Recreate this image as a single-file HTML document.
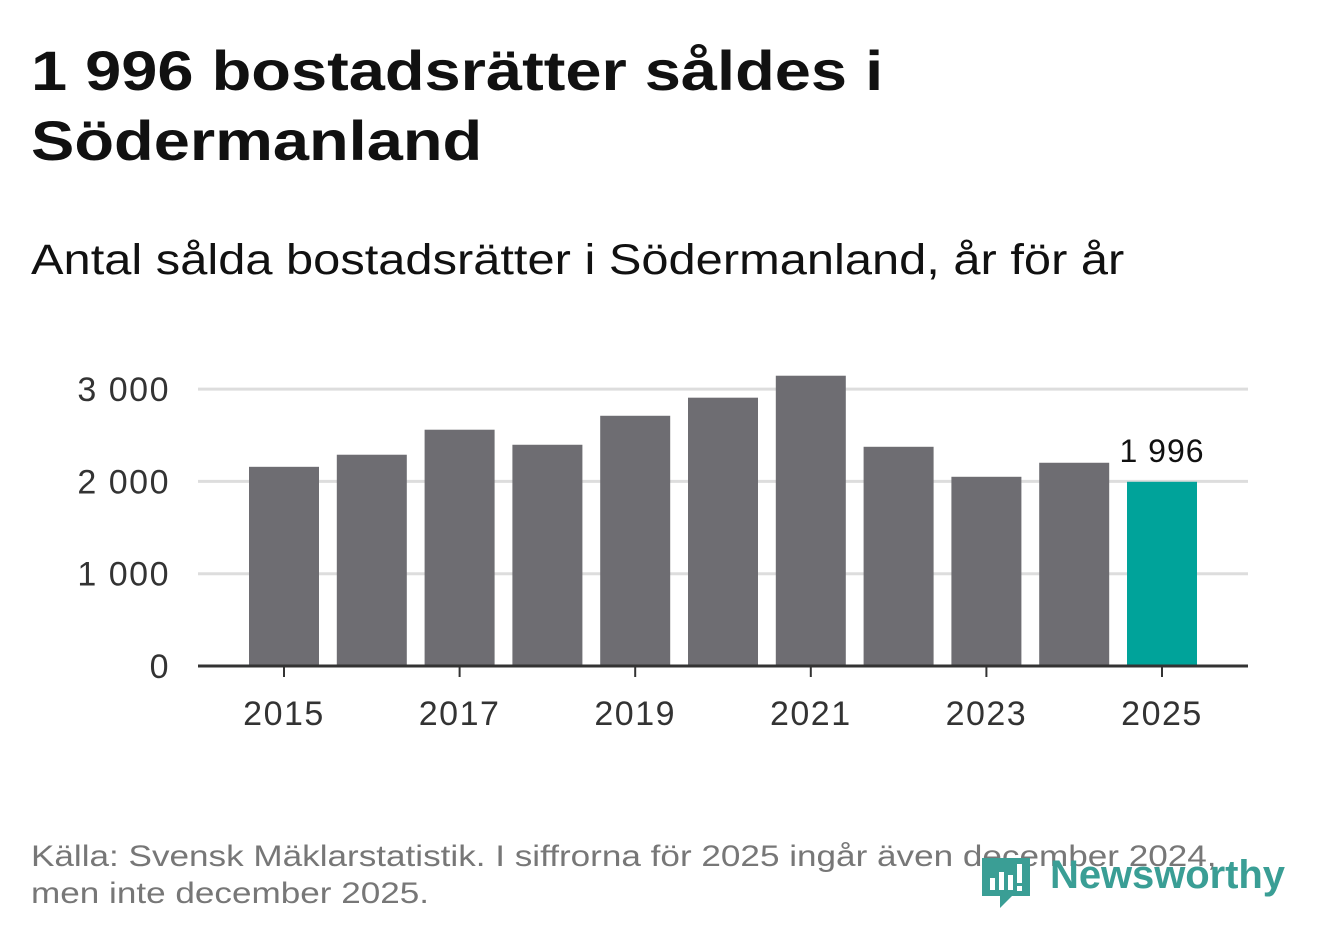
<!DOCTYPE html>
<html><head><meta charset="utf-8"><style>
body{margin:0;width:1322px;height:939px;background:#fff;font-family:"Liberation Sans",sans-serif;overflow:hidden;position:relative}
.t{position:absolute;white-space:nowrap;transform-origin:0 0}
</style></head><body>
<div class="t" style="left:31px;top:36px;font-size:56px;font-weight:bold;line-height:70px;color:#111;transform:scaleX(1.16)">1 996 bostadsrätter såldes i<br>Södermanland</div>
<div class="t" style="left:31px;top:236px;font-size:43px;color:#111;transform:scaleX(1.135)">Antal sålda bostadsrätter i Södermanland, år för år</div>
<svg id="c" width="1322" height="800" style="position:absolute;left:0;top:0"></svg>
<div class="t" style="left:31px;top:838px;font-size:30px;line-height:37px;color:#777;transform:scaleX(1.17)">Källa: Svensk Mäklarstatistik. I siffrorna för 2025 ingår även december 2024,<br>men inte december 2025.</div>
<svg style="position:absolute;left:980px;top:850px" width="310" height="62">
<path d="M2 8h48v38h-18l-12 12v-12h-18z" fill="#3a9e95"/>
<rect x="10" y="28" width="5" height="12" fill="#fff"/><rect x="19" y="22" width="5" height="18" fill="#fff"/><rect x="28" y="25" width="5" height="15" fill="#fff"/><rect x="37" y="14" width="5" height="19" fill="#fff"/><rect x="37" y="36" width="5" height="5" fill="#fff"/>
<text x="70" y="38" font-size="40" font-weight="bold" fill="#3a9e95" font-family="Liberation Sans, sans-serif" textLength="235">Newsworthy</text>
</svg>
<script>
const years=[2015,2016,2017,2018,2019,2020,2021,2022,2023,2024,2025];
const values=[2158,2289,2560,2397,2711,2907,3145,2375,2050,2202,1996];
const yTicks=[0,1000,2000,3000];
const yTickLabels=["0","1 000","2 000","3 000"];
const ns="http://www.w3.org/2000/svg",svg=document.getElementById('c');
const y=v=>666-v*0.0923, x=i=>284+i*87.8;
function el(t,a,txt){const e=document.createElementNS(ns,t);for(const k in a)e.setAttribute(k,a[k]);if(txt!==undefined)e.textContent=txt;svg.appendChild(e);return e;}
yTicks.forEach((v,i)=>{
 if(v>0){const g=el('line',{x1:198,x2:1248,y1:y(v),y2:y(v),stroke:'#ddd','stroke-width':3});
 
 }
 const t=el('text',{x:170,y:y(v)+12,'text-anchor':'end','font-size':34,'letter-spacing':1.5,fill:'#333'},yTickLabels[i]);
 
 
});
values.forEach((v,i)=>{
 const last=i===values.length-1;
 const r=el('rect',{x:x(i)-35,y:y(v),width:70,height:666-y(v),fill:last?'#00a39a':'#6e6d72'});
 
 
 if(i%2===0){
  const tk=el('line',{x1:x(i),x2:x(i),y1:666,y2:677,stroke:'#333','stroke-width':2});
  
  
  const tl=el('text',{x:x(i),y:725,'text-anchor':'middle','font-size':34,'letter-spacing':1.5,fill:'#333'},years[i]);
  
  
 }
 if(last){const l=el('text',{x:x(i),y:y(v)-20,'text-anchor':'middle','font-size':32,'letter-spacing':1,fill:'#111'},'1 996');
 
 }
});
const ax=el('line',{x1:198,x2:1248,y1:666,y2:666,stroke:'#333','stroke-width':3});


</script>
</body></html>
